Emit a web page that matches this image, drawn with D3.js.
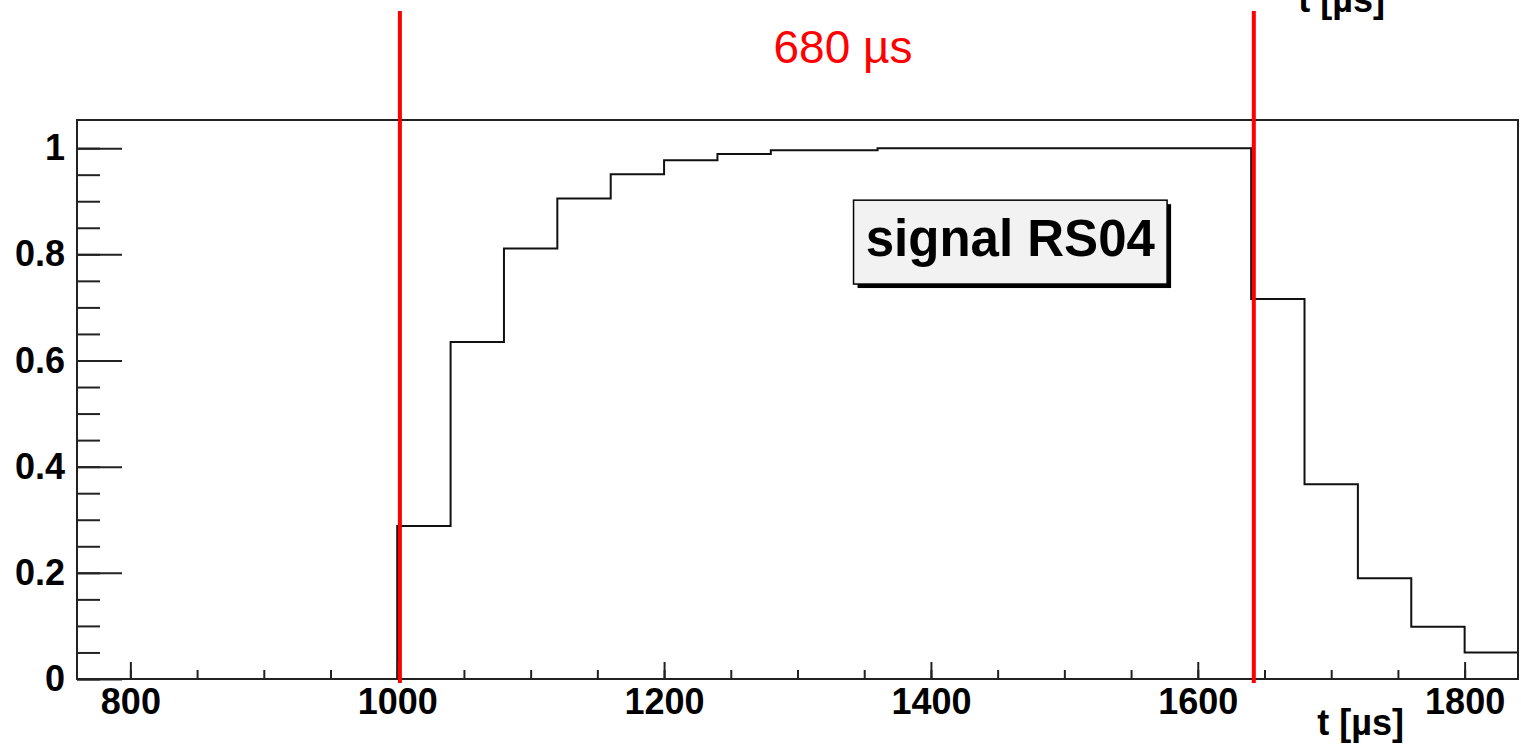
<!DOCTYPE html>
<html>
<head>
<meta charset="utf-8">
<script src="https://cdn.jsdelivr.net/npm/d3@7"></script>
<style>
  body { margin: 0; background: #fff; }
  text { font-family: "Liberation Sans", Arial, sans-serif; }
</style>
</head>
<body>
<div id="chart"></div>
<script>
// Histogram: 40 us bins starting at 760 us
const binStart = 760;
const binWidth = 40;
const binValues = [
  0, 0, 0, 0, 0, 0,
  0.288, 0.635, 0.811, 0.905, 0.951, 0.977, 0.989, 0.996, 0.996,
  1, 1, 1, 1, 1, 1, 1,
  0.716, 0.367, 0.190, 0.0985, 0.050
];
const xTicks = [800, 1000, 1200, 1400, 1600, 1800];
const yTicks = [0, 0.2, 0.4, 0.6, 0.8, 1];
const markers = [1002, 1642];
const markerLabel = "680 µs";
const boxLabel = "signal RS04";
const axisTitle = "t [µs]";

const width = 1521, height = 748;
const frame = { left: 77, right: 1518, top: 120, bottom: 679 };

const svg = d3.select("#chart").append("svg")
  .attr("width", width)
  .attr("height", height);

const x = d3.scaleLinear().domain([760, 1840]).range([frame.left, frame.right]);
const y = d3.scaleLinear().domain([0, 1.053]).range([frame.bottom, frame.top]);

// histogram outline as steps
const pts = [];
binValues.forEach((v, i) => {
  const x0 = binStart + i * binWidth;
  pts.push([x0, v], [x0 + binWidth, v]);
});
const line = d3.line().x(d => x(d[0])).y(d => y(d[1]));
svg.append("path")
  .attr("d", line(pts))
  .attr("fill", "none")
  .attr("stroke", "#111")
  .attr("stroke-width", 2);

// frame
svg.append("rect")
  .attr("x", frame.left).attr("y", frame.top)
  .attr("width", frame.right - frame.left)
  .attr("height", frame.bottom - frame.top)
  .attr("fill", "none")
  .attr("stroke", "#222")
  .attr("stroke-width", 2);

// y axis: major + minor ticks pointing inside
const yMinor = d3.range(0, 1.001, 0.05).map(v => +v.toFixed(2));
svg.append("g")
  .attr("transform", `translate(${frame.left},0)`)
  .call(d3.axisLeft(y).tickValues(yMinor).tickSize(-23).tickFormat(""))
  .call(g => g.select(".domain").remove());
svg.append("g")
  .attr("transform", `translate(${frame.left},0)`)
  .call(d3.axisLeft(y).tickValues(yTicks).tickSize(-45).tickPadding(12)
    .tickFormat(d => d3.format("")(d).replace(/^0$/, "0")))
  .call(g => g.select(".domain").remove())
  .call(g => g.selectAll("text")
    .attr("font-size", 36).attr("font-weight", "bold").attr("fill", "#000")
    .attr("font-family", "Liberation Sans, Arial, sans-serif"));

// x axis
const xMinor = d3.range(800, 1841, 50);
svg.append("g")
  .attr("transform", `translate(0,${frame.bottom})`)
  .call(d3.axisBottom(x).tickValues(xMinor).tickSize(-9).tickFormat(""))
  .call(g => g.select(".domain").remove());
svg.append("g")
  .attr("transform", `translate(0,${frame.bottom})`)
  .call(d3.axisBottom(x).tickValues(xTicks).tickSize(-17).tickPadding(9).tickFormat(d3.format("d")))
  .call(g => g.select(".domain").remove())
  .call(g => g.selectAll("text")
    .attr("font-size", 36).attr("font-weight", "bold").attr("fill", "#000")
    .attr("font-family", "Liberation Sans, Arial, sans-serif"));

svg.selectAll(".tick line").attr("stroke", "#222").attr("stroke-width", 2);

// axis titles (one clipped at the top edge)
svg.append("text")
  .attr("x", 1404).attr("y", 735)
  .attr("text-anchor", "end")
  .attr("font-size", 36).attr("font-weight", "bold")
  .text(axisTitle);
svg.append("text")
  .attr("x", 1385).attr("y", 12)
  .attr("text-anchor", "end")
  .attr("font-size", 36).attr("font-weight", "bold")
  .text(axisTitle);

// label box with shadow
const bx0 = x(1342), bx1 = x(1577), by0 = y(0.902), by1 = y(0.744);
svg.append("rect")
  .attr("x", bx0 + 4).attr("y", by0 + 4)
  .attr("width", bx1 - bx0).attr("height", by1 - by0)
  .attr("fill", "#000");
svg.append("rect")
  .attr("x", bx0).attr("y", by0)
  .attr("width", bx1 - bx0).attr("height", by1 - by0)
  .attr("fill", "#f2f2f2")
  .attr("stroke", "#000")
  .attr("stroke-width", 1.5);
svg.append("text")
  .attr("x", (bx0 + bx1) / 2).attr("y", by0 + 56)
  .attr("text-anchor", "middle")
  .attr("font-size", 51).attr("font-weight", "bold")
  .text(boxLabel);

// red markers
svg.selectAll(".marker")
  .data(markers)
  .join("line")
  .attr("class", "marker")
  .attr("x1", d => x(d)).attr("x2", d => x(d))
  .attr("y1", 11).attr("y2", 683)
  .attr("stroke", "#ff0000")
  .attr("stroke-width", 4);

svg.append("text")
  .attr("x", 843).attr("y", 63)
  .attr("text-anchor", "middle")
  .attr("font-size", 46)
  .attr("fill", "#ff0000")
  .text(markerLabel);
</script>
</body>
</html>
